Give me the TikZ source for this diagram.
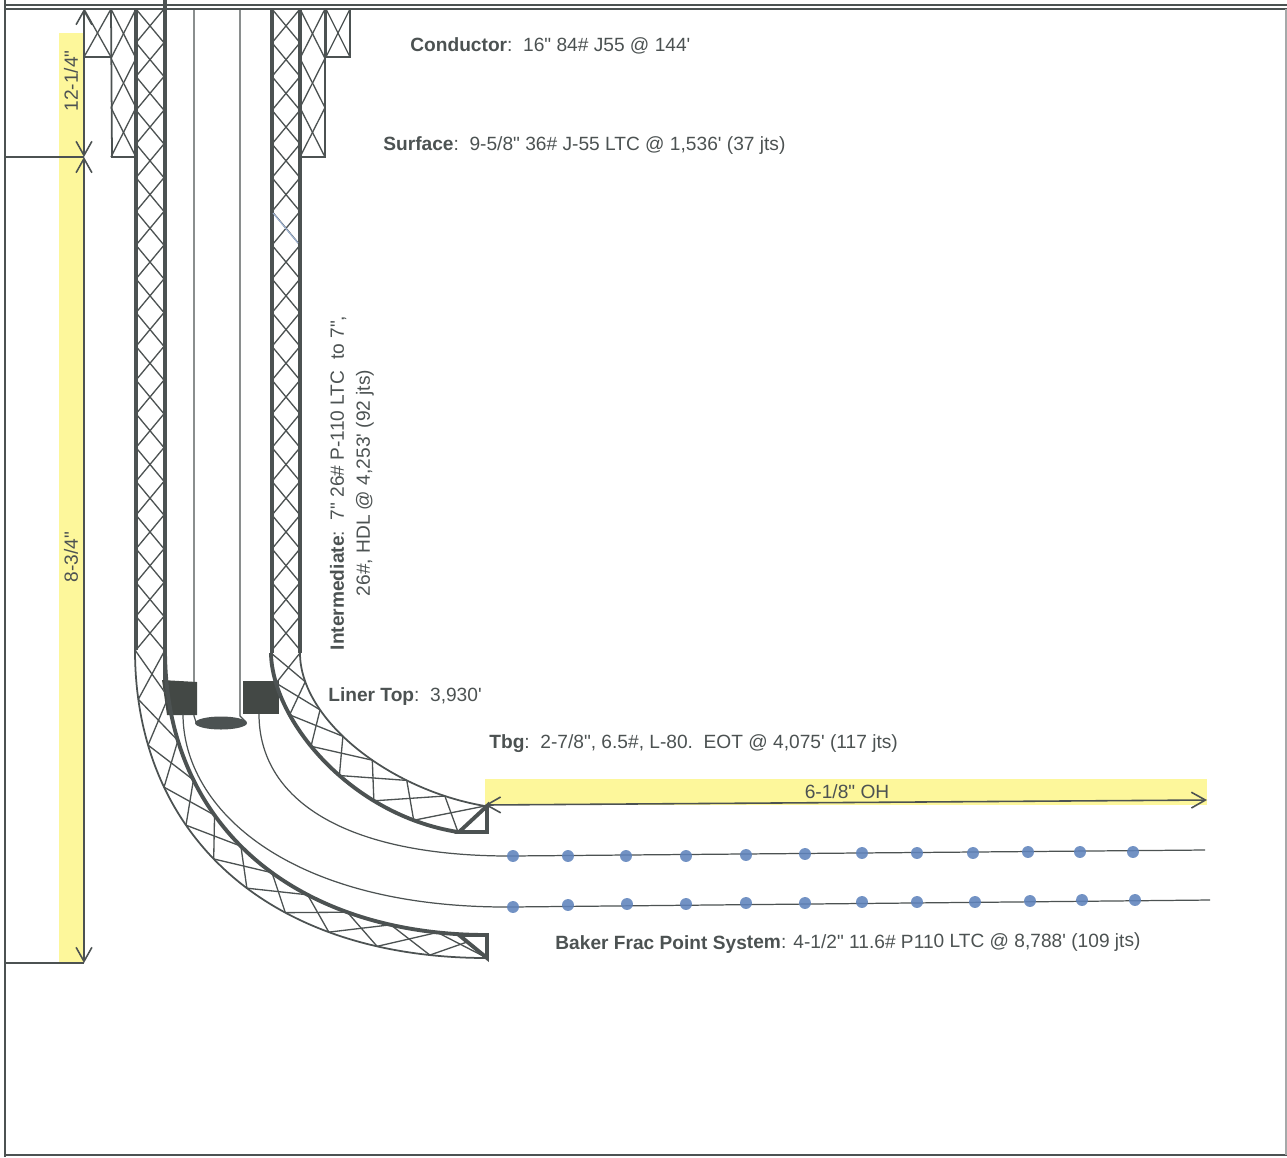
\documentclass[tikz,border=0pt]{standalone}
\usepackage{fontspec}
\newfontfamily\wellfont{Liberation Sans}
\usetikzlibrary{arrows.meta,calc}
\definecolor{wellgrey}{HTML}{4C5252}
\definecolor{blockgrey}{HTML}{434845}
\definecolor{hiyellow}{HTML}{FDF79B}
\definecolor{dotblue}{HTML}{5F83BC}
\tikzset{thin line/.style={draw=wellgrey, line width=0.7pt},
	box line/.style={draw=wellgrey, line width=1pt},
	thick line/.style={draw=wellgrey, line width=2.2pt},
	hatch/.style={draw=wellgrey, line width=0.75pt},
	frame line/.style={draw=wellgrey, line width=0.8pt},
	dim line/.style={draw=wellgrey, line width=0.9pt, {Straight Barb[length=8pt,width=9pt]}-{Straight Barb[length=8pt,width=9pt]}},
	label/.style={text=wellgrey, font=\wellfont\fontsize{10.9}{14.8}\selectfont, inner sep=0pt},
	perf/.style={circle, fill=dotblue, fill opacity=0.88, minimum size=6.8pt, inner sep=0pt}}
% crosses in a straight column: x1, x2, top, bottom, number of crosses
\newcommand{\xcolumn}[5]{
	\foreach \k in {1,...,#5}{
		\draw[hatch]($(#1,#3)+(0,{(\k-1)*(#4-#3)/#5})$)--($(#2,#3)+(0,{\k*(#4-#3)/#5})$);
		\draw[hatch]($(#2,#3)+(0,{(\k-1)*(#4-#3)/#5})$)--($(#1,#3)+(0,{\k*(#4-#3)/#5})$);
	}
}
% crosses between two curves: prefix, number of crosses, curve one, curve two
\newcommand{\xbend}[4]{
	\foreach \k in {0,...,#2}{
		\path #3 coordinate[pos=\k/#2](#1a\k);
		\path #4 coordinate[pos=\k/#2](#1b\k);
	}
	\foreach \k [remember=\k as \j (initially 0)] in {1,...,#2}{
		\draw[hatch](#1a\j)--(#1b\k);
		\draw[hatch](#1b\j)--(#1a\k);
	}
}
\begin{document}
\begin{tikzpicture}[x=0.02cm, y=-0.02cm]
	\useasboundingbox(0,0)rectangle(1287,1157);
	% paper frame
	\draw[frame line](5,0)--(5,1157);
	\draw[frame line](5,5)--(1287,5);
	\draw[frame line](5,9)--(1287,9);
	\draw[frame line](5,1155)--(1287,1155);
	\draw[frame line, draw=wellgrey!50](1286,9)--(1286,1155);
	% yellow marks
	\fill[hiyellow](59,33)rectangle(83,963);
	\fill[hiyellow](485,779)rectangle(1207,805);
	% conductor
	\xcolumn{84}{111}{9}{57}{1}
	\xcolumn{326}{350}{9}{57}{1}
	\draw[box line](84,57)--(111,57);
	\draw[box line](326,9)--(326,57)--(350,57)--(350,9);
	% surface
	\xcolumn{111}{136}{9}{157}{3}
	\xcolumn{300}{325}{9}{157}{3}
	\draw[box line](111,9)--(112,157)--(136,157);
	\draw[box line](300,157)--(325,157)--(325,9);
	% intermediate
	\xcolumn{136}{164}{9}{650}{19}
	\xcolumn{272}{300}{9}{650}{19}
	\draw[thick line](136,9)--(136,650);
	\draw[thick line](165,0)--(165,680);
	\draw[thick line](272,9)--(272,653);
	\draw[thick line](300,9)--(300,653);
	\draw[draw=dotblue!60, line width=0.6pt](273,213)--(298,243);
	% tubing
	\draw[thin line](194,9)--(194,716)--(196,722);
	\draw[thin line](240,9)--(240,716)--(246,722);
	\fill[wellgrey](221,723)ellipse(26 and 6.5);
	% liner top
	\fill[blockgrey](162,680)--(197,682)--(197,715)--(167,715)--cycle;
	\fill[blockgrey](243,681)--(279,681)--(279,714)--(243,714)--cycle;
	% bends
	\def\lowout{(135,650) .. controls (135,837) and (270,958) .. (487,958)}
	\def\lowin{(165,650) .. controls (165,830) and (300,935) .. (487,935)}
	\def\upout{(300,653) .. controls (300,720) and (390,790) .. (485,806)}
	\def\upin{(271,653) .. controls (272,720) and (350,815) .. (458,832)}
	\xbend{lo}{11}{\lowin}{\lowout}
	\xbend{up}{7}{\upin}{\upout}
	\draw[box line]\lowout;
	\draw[box line]\upout;
	\draw[thick line]\lowin;
	\draw[thick line]\upin;
	% shoes
	\draw[thick line, fill=white](459,832)--(487,832)--(487,806)--cycle;
	\draw[thick line, fill=white](459,935)--(487,935)--(487,958)--cycle;
	% liner
	\draw[thin line](259,714) .. controls (259,800) and (345,856) .. (510,856)--(1205,850);
	\draw[thin line](183,714) .. controls (183,810) and (290,908) .. (510,907)--(1210,900);
	\foreach \px/\py [count=\n] in {513/856,568/856,626/856,686/856,746/855,805/854,862/853,917/853,973/853,1028/852,1080/852,1133/852}
		\node(perfa\n)at(\px,\py)[perf]{};
	\foreach \px/\py [count=\n] in {513/907,568/905,627/904,686/904,746/903,805/903,862/902,917/902,975/902,1030/901,1082/900,1135/900}
		\node(perfb\n)at(\px,\py)[perf]{};
	% dimensions
	\coordinate(dimtop)at(84,9);
	\coordinate(dimmid)at(84,157);
	\coordinate(dimbot)at(84,963);
	\coordinate(ohleft)at(485,805);
	\coordinate(ohright)at(1207,800);
	\draw[dim line](dimtop)--(dimmid);
	\draw[dim line](dimmid)--(dimbot);
	\draw[dim line](ohleft)--(ohright);
	\draw[frame line](5,157)--(dimmid);
	\draw[frame line](5,963)--(dimbot);
	% labels
	\node(upperhole)at(71,81)[label, rotate=90]{12-1/4"};
	\node(lowerhole)at(71,557)[label, rotate=90]{8-3/4"};
	\node(openhole)at(847,792)[label]{6-1/8" OH};
	\node(conductor)at(410,46)[label, anchor=west]{\textbf{Conductor}:\ \ 16" 84\# J55 @ 144'};
	\node(surface)at(383,146)[label, anchor=west]{\textbf{Surface}:\ \ 9-5/8" 36\# J-55 LTC @ 1,536' (37 jts)};
	\node(intermediate)at(352,483)[label, rotate=90, align=center]{\textbf{Intermediate}:\ \ 7" 26\# P-110 LTC\ \ to 7",\\26\#, HDL @ 4,253' (92 jts)};
	\node(linertop)at(328,697)[label, anchor=west]{\textbf{Liner Top}:\ \ 3,930'};
	\node(tbg)at(489,744)[label, anchor=west]{\textbf{Tbg}:\ \ 2-7/8", 6.5\#, L-80.\ \ EOT @ 4,075' (117 jts)};
	\node(baker)at(555,945)[label, anchor=west, rotate=0.3]{\textbf{Baker Frac Point System}: 4-1/2" 11.6\# P110 LTC @ 8,788' (109 jts)};
\end{tikzpicture}
\end{document}
